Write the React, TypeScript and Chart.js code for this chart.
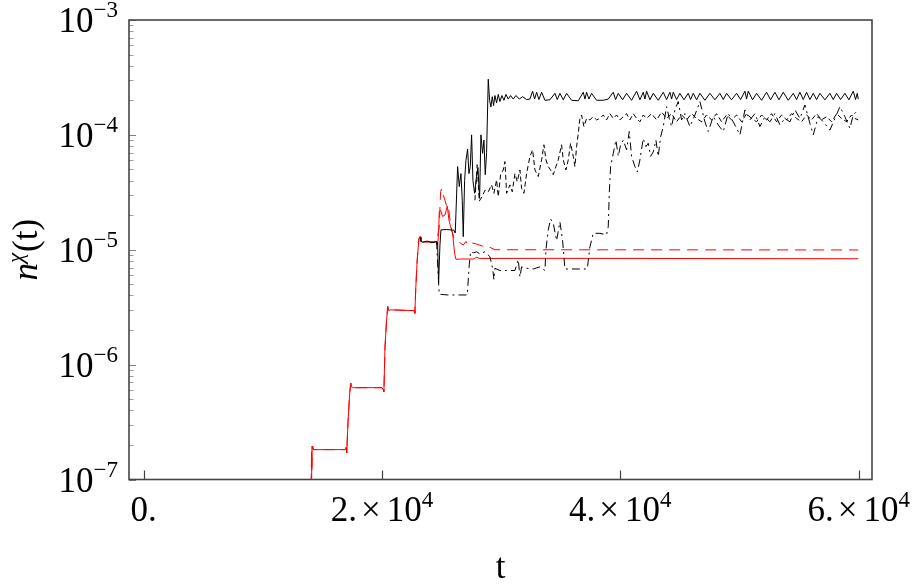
import React, { useEffect, useRef } from "react";
import { Chart, registerables } from "chart.js";

Chart.register(...registerables);

// ---- axis ranges & ticks ----
const xMin = -1230;
const xMax = 61120;
const yMin = 1e-7;
const yMax = 1e-3;
const xTickValues = [0, 20000, 40000, 60000];
const xTickMantissas = ["0.", "2.", "4.", "6."];
const xTickExponents = ["", "4", "4", "4"];
const yTickValues = [1e-7, 1e-6, 1e-5, 1e-4, 1e-3];
const yTickExponents = ["\u22127", "\u22126", "\u22125", "\u22124", "\u22123"];
const yMinorMultipliers = [2, 3, 4, 5, 6, 7, 8, 9];
const xTitle = "t";

// ---- shared staircase (t, n) ----
const steps: [number, number][] = [
  [14050, 9e-8], [14090, 1.75e-7], [14110, 1.2e-7], [14140, 1.95e-7], [14200, 1.85e-7],
  [14300, 1.82e-7], [16900, 1.82e-7], [16990, 1.9e-7], [17040, 1.7e-7], [17150, 3.2e-7],
  [17300, 5.8e-7], [17380, 6.9e-7], [17450, 6.4e-7], [17600, 6.3e-7], [20000, 6.3e-7],
  [20100, 6.1e-7], [20160, 5.8e-7], [20250, 1.4e-6], [20380, 2.4e-6], [20480, 3.2e-6],
  [20560, 2.95e-6], [20700, 3.0e-6], [22700, 2.95e-6], [22760, 2.8e-6], [22830, 4.5e-6],
  [22950, 8.0e-6], [23100, 1.25e-5], [23190, 1.3e-5], [23260, 1.18e-5], [23400, 1.17e-5],
  [24500, 1.17e-5],
];

// ---- black solid (from the 4th plateau on) ----
const blackSolid: [number, number][] = [
  [23190, 1.28e-5], [23260, 1.2e-5], [23400, 1.16e-5], [23800, 1.19e-5], [24200, 1.15e-5],
  [24583, 1.18e-5], [24667, 1.15e-5], [24751, 5.1e-6], [24863, 1.1e-5], [24947, 1.49e-5],
  [25422, 1.5e-5], [26037, 1.48e-5], [26149, 1.4e-5], [26261, 3.0e-5], [26345, 5.3e-5],
  [26485, 3.55e-5], [26624, 4.6e-5], [26736, 2.7e-5], [26820, 1.3e-5], [26932, 4.0e-5],
  [27044, 6.0e-5], [27184, 7.5e-5], [27296, 4.6e-5], [27408, 5.3e-5], [27520, 1.0e-4],
  [27632, 4.0e-5], [27772, 3.1e-5], [27911, 4.1e-5], [28051, 5.2e-5], [28191, 2.8e-5],
  [28303, 1.0e-4], [28443, 6.9e-5], [28555, 9.0e-5], [28666, 4.5e-5], [28778, 7.0e-5],
  [28918, 3.05e-4], [29030, 2.0e-4], [29142, 1.75e-4], [29254, 2.15e-4], [29366, 1.8e-4],
  [29478, 2.2e-4], [29617, 1.9e-4], [29757, 2.25e-4], [29897, 1.95e-4], [30065, 2.2e-4],
  [30233, 2.0e-4], [30401, 2.25e-4], [30597, 2.05e-4], [30793, 2.2e-4], [31016, 2.05e-4],
  [31240, 2.2e-4], [31520, 2.05e-4], [31800, 2.15e-4], [32135, 2.03e-4], [32415, 2.05e-4],
  [32639, 2.4e-4], [32807, 2.05e-4], [32975, 2.35e-4], [33170, 2.03e-4], [33394, 2.35e-4],
  [33674, 2.0e-4], [34093, 2.02e-4], [34513, 2.3e-4], [34708, 2.03e-4], [34932, 2.3e-4],
  [35212, 2.02e-4], [35491, 2.3e-4], [35911, 2.0e-4], [36470, 1.98e-4], [36890, 2.35e-4],
  [37030, 2.05e-4], [37169, 2.35e-4], [37365, 2.05e-4], [37589, 2.3e-4], [38009, 2.0e-4],
  [38568, 2.0e-4], [38988, 2.05e-4], [39407, 2.35e-4], [39603, 2.03e-4], [39827, 2.3e-4],
  [40190, 2.02e-4], [40526, 2.3e-4], [40946, 2.0e-4], [41365, 2.4e-4], [41645, 2.02e-4],
  [41925, 2.35e-4], [42064, 2.05e-4], [42204, 2.4e-4], [42484, 2.02e-4], [42763, 2.3e-4],
  [43183, 2.0e-4], [43603, 2.35e-4], [43882, 2.03e-4], [44162, 2.35e-4], [44302, 2.05e-4],
  [44442, 2.35e-4], [44721, 2.03e-4], [45001, 2.3e-4], [45337, 2.02e-4], [45700, 2.3e-4],
  [45896, 2.03e-4], [46120, 2.3e-4], [46400, 2.02e-4], [46679, 2.3e-4], [47099, 2.0e-4],
  [47518, 2.3e-4], [47938, 2.02e-4], [48357, 2.3e-4], [48637, 2.03e-4], [48917, 2.3e-4],
  [49336, 2.02e-4], [49756, 2.3e-4], [50092, 2.03e-4], [50455, 2.4e-4], [50595, 2.05e-4],
  [50735, 2.4e-4], [51099, 2.02e-4], [51434, 2.3e-4], [51854, 2.0e-4], [52273, 2.35e-4],
  [52609, 2.02e-4], [52973, 2.35e-4], [53308, 2.02e-4], [53672, 2.35e-4], [54091, 2.0e-4],
  [54511, 2.3e-4], [54791, 2.03e-4], [55070, 2.35e-4], [55350, 2.03e-4], [55630, 2.35e-4],
  [55910, 2.03e-4], [56189, 2.3e-4], [56469, 2.03e-4], [56749, 2.3e-4], [57168, 2.02e-4],
  [57588, 2.3e-4], [57867, 2.03e-4], [58147, 2.3e-4], [58483, 2.03e-4], [58846, 2.3e-4],
  [59181, 2.02e-4], [59545, 2.4e-4], [59741, 2.03e-4], [59881, 2.3e-4], [59965, 2.05e-4],
];

// ---- black dashed ----
const blackDashed: [number, number][] = [
  [27800, 2.7e-5], [27990, 5.5e-5], [28163, 2.65e-5], [28400, 2.9e-5], [28638, 3.3e-5],
  [28918, 3.2e-5], [29198, 3.67e-5], [29394, 3.1e-5], [29617, 4.05e-5], [29757, 2.9e-5],
  [29953, 4.5e-5], [30177, 4.95e-5], [30317, 5.85e-5], [30457, 3.1e-5], [30736, 3.67e-5],
  [30932, 3.2e-5], [31156, 4.6e-5], [31352, 3.92e-5], [31575, 4.95e-5], [31715, 3.43e-5],
  [31911, 3.1e-5], [32135, 4.6e-5], [32415, 6.5e-5], [32639, 7.4e-5], [32834, 4.95e-5],
  [33114, 4.34e-5], [33394, 6.05e-5], [33590, 8.2e-5], [33758, 6.05e-5], [33953, 5.3e-5],
  [34149, 4.95e-5], [34373, 4.5e-5], [34597, 5.3e-5], [34792, 6.05e-5], [35072, 8.2e-5],
  [35212, 6.05e-5], [35436, 4.95e-5], [35631, 6.05e-5], [35827, 8.45e-5], [36051, 6.5e-5],
  [36191, 5.3e-5], [36331, 7.9e-5], [36470, 1.03e-4], [36610, 1.39e-4], [36750, 1.49e-4],
  [36946, 1.18e-4], [37169, 1.39e-4], [37449, 1.35e-4], [37729, 1.44e-4], [38009, 1.35e-4],
  [38289, 1.39e-4], [38568, 1.49e-4], [38848, 1.35e-4], [39128, 1.53e-4], [39407, 1.39e-4],
  [39687, 1.49e-4], [39967, 1.35e-4], [40246, 1.44e-4], [40526, 1.53e-4], [40806, 1.35e-4],
  [41085, 1.53e-4], [41365, 1.39e-4], [41645, 1.3e-4], [41924, 1.49e-4], [42204, 1.39e-4],
  [42624, 1.53e-4], [43043, 1.35e-4], [43463, 1.58e-4], [43882, 1.39e-4], [44302, 1.53e-4],
  [44721, 1.3e-4], [45141, 1.49e-4], [45561, 1.35e-4], [45980, 1.53e-4], [46400, 1.39e-4],
  [46820, 1.3e-4], [47239, 1.49e-4], [47659, 1.35e-4], [48078, 1.53e-4], [48498, 1.3e-4],
  [48917, 1.49e-4], [49336, 1.35e-4], [49756, 1.49e-4], [50176, 1.3e-4], [50595, 1.53e-4],
  [51015, 1.39e-4], [51434, 1.3e-4], [51854, 1.49e-4], [52273, 1.35e-4], [52693, 1.53e-4],
  [53113, 1.3e-4], [53532, 1.49e-4], [53952, 1.35e-4], [54371, 1.53e-4], [54791, 1.39e-4],
  [55210, 1.3e-4], [55630, 1.49e-4], [56050, 1.35e-4], [56469, 1.53e-4], [56889, 1.35e-4],
  [57308, 1.44e-4], [57728, 1.3e-4], [58147, 1.53e-4], [58567, 1.39e-4], [58987, 1.3e-4],
  [59406, 1.49e-4], [59685, 1.39e-4], [59965, 1.35e-4],
];

// ---- black dot-dashed ----
const blackDotDashed: [number, number][] = [
  [24583, 1.18e-5], [24751, 5.1e-6], [24807, 4.1e-6], [25500, 4.04e-6], [26500, 4.04e-6],
  [27156, 4.04e-6], [27324, 7.4e-6], [27436, 9.6e-6], [27660, 9.4e-6], [27940, 9.6e-6],
  [28219, 9.2e-6], [28638, 9.6e-6], [29058, 8.7e-6], [29282, 6.9e-6], [29394, 5.5e-6],
  [29478, 6.9e-6], [29897, 6.6e-6], [30457, 6.6e-6], [31156, 6.6e-6], [31436, 8.2e-6],
  [31576, 5.8e-6], [31715, 7.1e-6], [32135, 6.9e-6], [32695, 6.8e-6], [33254, 7.1e-6],
  [33674, 6.6e-6], [33758, 1.0e-5], [33953, 1.49e-5], [34149, 1.85e-5], [34373, 1.7e-5],
  [34652, 1.2e-5], [34932, 1.75e-5], [35156, 1.2e-5], [35352, 6.8e-6], [35911, 6.8e-6],
  [36610, 6.8e-6], [37225, 6.8e-6], [37449, 1.06e-5], [37729, 1.39e-5], [38289, 1.39e-5],
  [38848, 1.35e-5], [38988, 1.59e-5], [39072, 3.1e-5], [39184, 5.3e-5], [39407, 6.9e-5],
  [39631, 9.0e-5], [39827, 6.5e-5], [40023, 8.2e-5], [40246, 9.0e-5], [40526, 7.4e-5],
  [40750, 1.07e-4], [40946, 6.5e-5], [41225, 5.3e-5], [41421, 4.75e-5], [41645, 6.05e-5],
  [41924, 9.3e-5], [42148, 7.9e-5], [42344, 8.45e-5], [42540, 6.5e-5], [42764, 7.1e-5],
  [42987, 9.0e-5], [43183, 6.5e-5], [43379, 9.6e-5], [43603, 1.18e-4], [43882, 1.76e-4],
  [44106, 1.39e-4], [44302, 1.18e-4], [44582, 1.65e-4], [44861, 1.95e-4], [45141, 1.35e-4],
  [45421, 1.53e-4], [45840, 1.18e-4], [46260, 1.49e-4], [46679, 1.95e-4], [47099, 1.3e-4],
  [47379, 1.07e-4], [47798, 1.44e-4], [48218, 1.22e-4], [48637, 1.07e-4], [49057, 1.53e-4],
  [49476, 1.3e-4], [50036, 1.0e-4], [50455, 1.65e-4], [50875, 1.35e-4], [51294, 1.53e-4],
  [51714, 1.18e-4], [52133, 1.44e-4], [52553, 1.3e-4], [52973, 1.53e-4], [53392, 1.22e-4],
  [53812, 1.39e-4], [54231, 1.3e-4], [54651, 1.65e-4], [55070, 1.39e-4], [55490, 1.82e-4],
  [55910, 1.26e-4], [56189, 1.0e-4], [56609, 1.44e-4], [57029, 1.3e-4], [57588, 1.1e-4],
  [58007, 1.39e-4], [58427, 1.76e-4], [58846, 1.44e-4], [59266, 1.14e-4], [59545, 1.49e-4],
  [59965, 1.65e-4],
];

// ---- red solid branch ----
const redSolid: [number, number][] = [
  [24583, 1.18e-5], [24667, 1.1e-5], [24751, 1.39e-5], [24807, 2.15e-5], [24919, 2.2e-5],
  [25087, 1.95e-5], [25282, 2.0e-5], [25478, 2.4e-5], [25618, 1.82e-5], [25758, 1.59e-5],
  [25926, 1.39e-5], [26093, 9.3e-6], [26205, 8.26e-6], [26541, 8.3e-6], [27660, 8.3e-6],
  [27940, 8.6e-6], [28219, 8.4e-6], [29897, 8.4e-6], [33800, 8.42e-6], [59965, 8.35e-6],
];

// ---- red dashed branch ----
const redDashed: [number, number][] = [
  [24583, 1.18e-5], [24807, 1.59e-5], [24919, 3.2e-5], [25003, 3.4e-5], [25143, 3.0e-5],
  [25282, 2.7e-5], [25422, 2.4e-5], [25562, 2.45e-5], [25702, 1.82e-5], [25842, 1.49e-5],
  [26037, 1.26e-5], [26261, 1.2e-5], [26541, 1.15e-5], [26820, 1.1e-5], [27044, 1.18e-5],
  [27240, 1.1e-5], [27520, 1.15e-5], [27940, 1.12e-5], [28498, 1.07e-5], [29058, 1.05e-5],
  [29478, 1.0e-5], [31016, 1.0e-5], [59965, 9.96e-6],
];

const toPts = (arr: [number, number][]) => arr.map(([x, y]) => ({ x, y }));

const SERIF = '"Liberation Serif", "DejaVu Serif", serif';

const mmaPlugin = {
  id: "mmaFrame",
  afterDatasetsDraw(chart: any) {
    const { ctx, chartArea: a } = chart;
    const xs = chart.scales.x;
    const ys = chart.scales.y;
    ctx.save();
    // minor y ticks
    ctx.strokeStyle = "#9a9a9a";
    ctx.lineWidth = 1;
    for (let d = 0; d < yTickValues.length - 1; d++) {
      for (const m of yMinorMultipliers) {
        const py = Math.round(ys.getPixelForValue(yTickValues[d] * m)) + 0.5;
        ctx.beginPath();
        ctx.moveTo(a.left, py);
        ctx.lineTo(a.left + 4.5, py);
        ctx.stroke();
      }
    }
    // major y ticks
    ctx.strokeStyle = "#808080";
    for (const v of yTickValues) {
      const py = Math.round(ys.getPixelForValue(v)) + 0.5;
      ctx.beginPath();
      ctx.moveTo(a.left, py);
      ctx.lineTo(a.left + 7, py);
      ctx.stroke();
    }
    // x ticks
    ctx.strokeStyle = "#404040";
    ctx.lineWidth = 1.2;
    for (const v of xTickValues) {
      const px = Math.round(xs.getPixelForValue(v)) + 0.5;
      ctx.beginPath();
      ctx.moveTo(px, a.bottom);
      ctx.lineTo(px, a.bottom - 9);
      ctx.stroke();
    }
    // frame
    ctx.strokeStyle = "#454545";
    ctx.lineWidth = 1.6;
    ctx.strokeRect(a.left, a.top, a.right - a.left, a.bottom - a.top);

    ctx.fillStyle = "#000";
    ctx.textBaseline = "alphabetic";
    ctx.textAlign = "left";
    const big = `35px ${SERIF}`;
    const sup = `23px ${SERIF}`;

    // y tick labels
    yTickValues.forEach((v, i) => {
      const py = ys.getPixelForValue(v);
      const base = py + 12;
      const right = a.left - 11;
      ctx.font = sup;
      const w2 = ctx.measureText(yTickExponents[i]).width;
      ctx.font = big;
      const w1 = ctx.measureText("10").width;
      ctx.fillText("10", right - w2 - w1, base);
      ctx.font = sup;
      ctx.fillText(yTickExponents[i], right - w2, base - 15);
    });

    // x tick labels
    xTickValues.forEach((v, i) => {
      const px = xs.getPixelForValue(v);
      const base = 521;
      const mant = xTickMantissas[i];
      const ex = xTickExponents[i];
      ctx.font = big;
      if (!ex) {
        const w = ctx.measureText(mant).width;
        ctx.fillText(mant, px - w / 2, base);
        return;
      }
      const wm = ctx.measureText(mant).width;
      const wx = ctx.measureText("\u00d7").width;
      const wt = ctx.measureText("10").width;
      ctx.font = sup;
      const we = ctx.measureText(ex).width;
      const g1 = 4, g2 = 6;
      const total = wm + g1 + wx + g2 + wt + we;
      let cx = px - total / 2;
      ctx.font = big;
      ctx.fillText(mant, cx, base);
      cx += wm + g1;
      ctx.fillText("\u00d7", cx, base);
      cx += wx + g2;
      ctx.fillText("10", cx, base);
      cx += wt;
      ctx.font = sup;
      ctx.fillText(ex, cx, base - 14);
    });

    // x title
    ctx.font = big;
    const wt = ctx.measureText(xTitle).width;
    ctx.fillText(xTitle, (a.left + a.right) / 2 - wt / 2, 578);

    // y title  n^χ(t)
    ctx.save();
    ctx.translate(37, (a.top + a.bottom) / 2);
    ctx.rotate(-Math.PI / 2);
    const fN = `italic 35px ${SERIF}`;
    const fChi = `italic 23px ${SERIF}`;
    ctx.font = fN;
    const wn = ctx.measureText("n").width;
    ctx.font = fChi;
    const wc = ctx.measureText("\u03c7").width;
    ctx.font = big;
    const wp = ctx.measureText("(t)").width;
    let cx = -(wn + wc + 1 + wp) / 2;
    ctx.font = fN;
    ctx.fillText("n", cx, 0);
    cx += wn;
    ctx.font = fChi;
    ctx.fillText("\u03c7", cx, -14);
    cx += wc + 1;
    ctx.font = big;
    ctx.fillText("(t)", cx, 0);
    ctx.restore();

    ctx.restore();
  },
};

export default function App() {
  const ref = useRef<HTMLCanvasElement | null>(null);
  useEffect(() => {
    if (!ref.current) return;
    const line = (data: [number, number][], color: string, dash: number[]) => ({
      data: toPts(data),
      borderColor: color,
      borderWidth: 1,
      borderDash: dash,
      pointRadius: 0,
      tension: 0,
      fill: false,
      clip: 0,
    });
    const chart = new Chart(ref.current, {
      type: "line",
      data: {
        datasets: [
          line(blackDotDashed, "#000000", [8, 4, 2, 4]),
          line(blackDashed, "#000000", [5, 3]),
          line(blackSolid, "#000000", []),
          line([...steps, ...redDashed], "#ff0000", [11, 7]),
          line([...steps, ...redSolid], "#ff0000", []),
        ] as any,
      },
      options: {
        responsive: false,
        animation: false,
        parsing: true,
        layout: { padding: { left: 129, right: 41, top: 20, bottom: 106.5 } },
        plugins: { legend: { display: false }, tooltip: { enabled: false } },
        scales: {
          x: { type: "linear", min: xMin, max: xMax, display: false },
          y: { type: "logarithmic", min: yMin, max: yMax, display: false },
        },
      },
      plugins: [mmaPlugin],
    });
    return () => chart.destroy();
  }, []);
  return (
    <div style={{ position: "fixed", left: 0, top: 0, width: 913, height: 586, background: "#fff" }}>
      <canvas ref={ref} width={913} height={586} style={{ width: 913, height: 586 }} />
    </div>
  );
}
